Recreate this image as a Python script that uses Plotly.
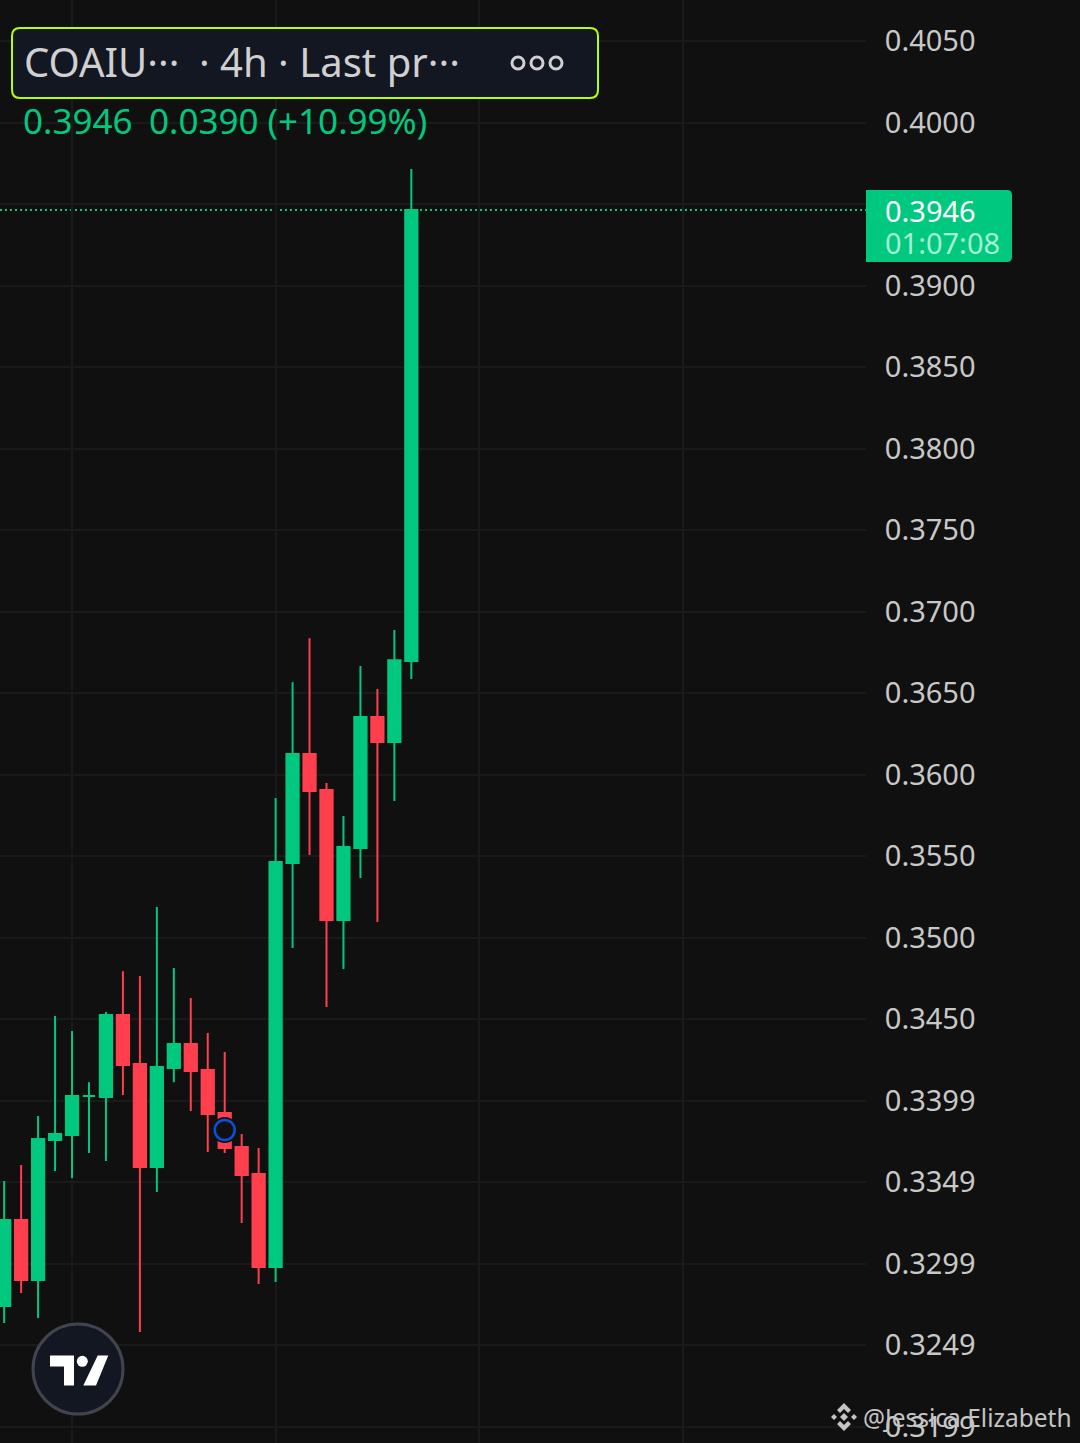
import plotly.graph_objects as go

# 4h candles
candle_idx = list(range(25))
opens = [0.32739, 0.33267, 0.32899, 0.33758, 0.33788, 0.34028, 0.34021, 0.34525, 0.34224, 0.33592, 0.34199, 0.34347, 0.34187,
         0.33923, 0.33715, 0.33549, 0.32979, 0.35457, 0.36126, 0.35905, 0.35107, 0.35549, 0.36353, 0.36199, 0.36696]
highs = [0.33506, 0.33604, 0.33905, 0.34518, 0.34426, 0.34113, 0.34543, 0.34794, 0.34764, 0.35187, 0.34813, 0.34629, 0.34414,
         0.34298, 0.33794, 0.33709, 0.35856, 0.36567, 0.36837, 0.35948, 0.35745, 0.36666, 0.36525, 0.36887, 0.39715]
lows = [0.32635, 0.32819, 0.32666, 0.33567, 0.33525, 0.33678, 0.33629, 0.34034, 0.32580, 0.33439, 0.34113, 0.33936, 0.33684,
        0.33678, 0.33248, 0.32874, 0.32887, 0.34936, 0.35506, 0.34574, 0.34807, 0.35365, 0.35095, 0.35837, 0.36586]
closes = [0.33267, 0.32899, 0.33764, 0.33794, 0.34028, 0.34028, 0.34525, 0.34218, 0.33592, 0.34206, 0.34347, 0.34181, 0.33917,
          0.33709, 0.33543, 0.32979, 0.35463, 0.36126, 0.35899, 0.35107, 0.35555, 0.36353, 0.36199, 0.36702, 0.39463]

price_ticks = [0.405, 0.400, 0.395, 0.390, 0.385, 0.380, 0.375, 0.370, 0.365, 0.360, 0.355, 0.350,
               0.345, 0.340, 0.335, 0.330, 0.325, 0.320]
price_labels = ["0.4050", "0.4000", "", "0.3900", "0.3850", "0.3800", "0.3750", "0.3700", "0.3650", "0.3600", "0.3550", "0.3500",
                "0.3450", "0.3399", "0.3349", "0.3299", "0.3249", "0.3199"]
time_ticks = [4, 16, 28, 40]

event_x = [13]
event_y = [0.33819]

BG = "#101010"
GRID = "#1a1a1a"
GREEN = "#00c87f"
RED = "#ff3f4d"
PANEL = "#131722"
TEXT = "#d0d0d0"
FONT = "Noto Sans"
PLOT_W = 866
PLOT_H = 1443


def px(x):
    return x / PLOT_W


def py(y):
    return 1 - y / PLOT_H


def poly(points):
    return "M" + " L".join(f"{px(x)},{py(y)}" for x, y in points) + " Z"


def round_rect(x0, y0, x1, y1, r_left, r_right):
    return (f"M{px(x0 + r_left)},{py(y0)} L{px(x1 - r_right)},{py(y0)} "
            f"Q{px(x1)},{py(y0)} {px(x1)},{py(y0 + r_right)} L{px(x1)},{py(y1 - r_right)} "
            f"Q{px(x1)},{py(y1)} {px(x1 - r_right)},{py(y1)} L{px(x0 + r_left)},{py(y1)} "
            f"Q{px(x0)},{py(y1)} {px(x0)},{py(y1 - r_left)} L{px(x0)},{py(y0 + r_left)} "
            f"Q{px(x0)},{py(y0)} {px(x0 + r_left)},{py(y0)} Z")


def circle(cx, cy, r, **kw):
    return dict(type="circle", xref="paper", yref="paper", x0=px(cx - r), x1=px(cx + r), y0=py(cy + r), y1=py(cy - r), **kw)


def path(d, fill, line_color=None, line_width=0):
    return dict(type="path", xref="paper", yref="paper", path=d, fillcolor=fill,
                line=dict(color=line_color or fill, width=line_width))


def label(x, y, text, size, color):
    return dict(xref="paper", yref="paper", x=px(x), y=py(y), text=text, showarrow=False, xanchor="left", yanchor="middle",
                borderpad=0, font=dict(family=FONT, size=size, color=color))


fig = go.Figure()
fig.add_trace(go.Candlestick(
    x=candle_idx, open=opens, high=highs, low=lows, close=closes, whiskerwidth=0,
    increasing=dict(line=dict(color=GREEN, width=2), fillcolor=GREEN),
    decreasing=dict(line=dict(color=RED, width=2), fillcolor=RED),
))
# marker on the candle
fig.add_trace(go.Scatter(x=event_x, y=event_y, mode="markers", marker=dict(size=26, color=BG)))
fig.add_trace(go.Scatter(x=event_x, y=event_y, mode="markers",
                         marker=dict(size=20, color="rgba(0,0,0,0)", line=dict(color="#0b50d8", width=2.5))))

shapes = [
    # last price line
    dict(type="line", xref="paper", yref="y", x0=0, x1=1, y0=closes[-1], y1=closes[-1], layer="below",
         line=dict(color=GREEN, width=2, dash="2px,3px")),
    # header box
    path(round_rect(12, 28, 598, 98, 8, 8), PANEL, "#b5ff00", 2),
    circle(518, 63, 6, line=dict(color=TEXT, width=3)),
    circle(537, 63, 6, line=dict(color=TEXT, width=3)),
    circle(556, 63, 6, line=dict(color=TEXT, width=3)),
    # price tag
    path(round_rect(866, 190, 1012, 262, 0, 5), GREEN),
    # logo
    circle(78, 1369, 45, fillcolor=PANEL, line=dict(color="#41444e", width=3)),
    path(poly([(50, 1355.5), (74, 1355.5), (74, 1385.5), (64, 1385.5), (64, 1366.5), (50, 1366.5)]), "#ffffff"),
    circle(82.3, 1361.3, 5.5, fillcolor="#ffffff", line=dict(width=0)),
    path(poly([(97.7, 1355.5), (108.3, 1355.5), (96, 1385.5), (83.3, 1385.5)]), "#ffffff"),
    # watermark icon
    path(poly([(844, 1403), (851, 1410), (848, 1413), (844, 1409), (840, 1413), (837, 1410)]), "#c4c4c4"),
    path(poly([(844, 1431), (851, 1424), (848, 1421), (844, 1425), (840, 1421), (837, 1424)]), "#c4c4c4"),
    path(poly([(844, 1413), (848, 1417), (844, 1421), (840, 1417)]), "#c4c4c4"),
    path(poly([(834, 1414), (837, 1417), (834, 1420), (831, 1417)]), "#c4c4c4"),
    path(poly([(854, 1414), (857, 1417), (854, 1420), (851, 1417)]), "#c4c4c4"),
]

annotations = [
    label(23, 61, "COAIU···", 40, TEXT),
    label(198, 61, "· 4h · Last pr···", 40, TEXT),
    label(22, 120, "0.3946", 35, GREEN),
    label(148, 120, "0.0390 (+10.99%)", 35, GREEN),
    label(884, 210, "0.3946", 29, "#ffffff"),
    label(884, 243, "01:07:08", 29, "#a5f0d4"),
    label(862, 1417, "@Jessica Elizabeth", 24.5, "#c4c4c4"),
]

fig.update_layout(
    width=1080, height=PLOT_H + 2,
    margin=dict(l=0, r=1080 - PLOT_W, t=0, b=0),
    paper_bgcolor=BG, plot_bgcolor=BG,
    showlegend=False, boxgap=0.15, boxgroupgap=0.15,
    shapes=shapes, annotations=annotations,
    xaxis=dict(range=[-0.245, 50.8], rangeslider=dict(visible=False), tickvals=time_ticks, showticklabels=False,
               showgrid=True, gridcolor=GRID, gridwidth=2, zeroline=False, showline=False),
    yaxis=dict(range=[0.31899, 0.40752], side="right", tickvals=price_ticks, ticktext=price_labels,
               showgrid=True, gridcolor=GRID, gridwidth=2, zeroline=False, showline=False,
               ticks="outside", ticklen=12, tickcolor="rgba(0,0,0,0)", ticklabeloverflow="allow",
               tickfont=dict(family=FONT, size=29, color="#c8c8c8")),
)

# drop the page margin so the figure fills the window
fig.write_html("out.html", config=dict(displayModeBar=False),
               post_script="document.body.style.margin='0';document.body.style.overflow='hidden';document.body.style.background='#101010';")
